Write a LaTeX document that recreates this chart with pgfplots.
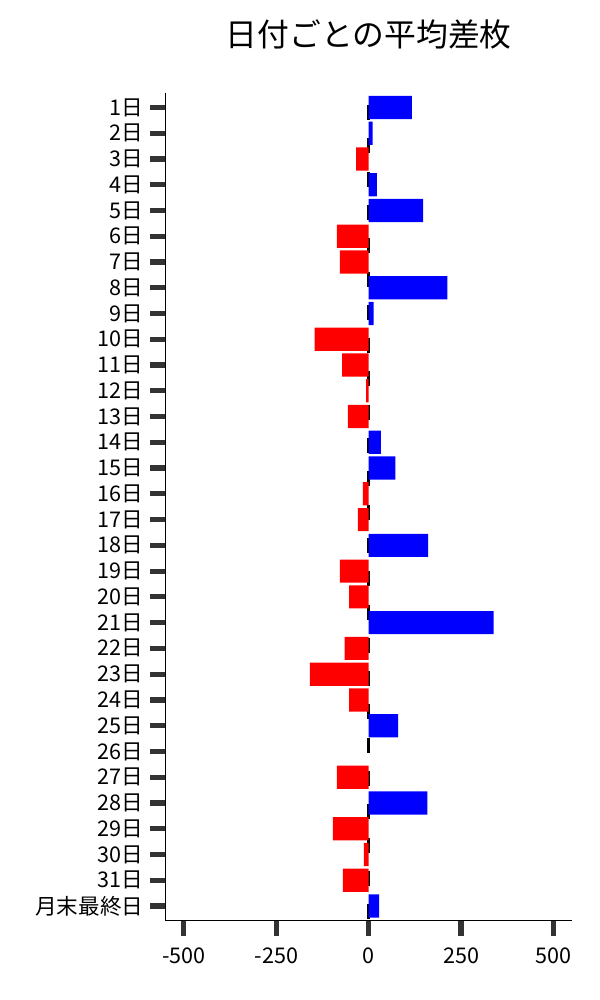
\documentclass[border=0pt]{standalone}
\usepackage{pgfplots}
\pgfplotsset{compat=1.18}
\usepackage{fontspec}
\setmainfont{Noto Sans CJK JP}
\definecolor{tickgray}{HTML}{333333}

\begin{document}
\begin{tikzpicture}
\begin{axis}[
    scale only axis,
    width=203.3pt, height=414pt,
    xmin=-550, xmax=550,
    ymin=-0.57, ymax=31.57,
    y dir=reverse,
    axis x line*=bottom, axis y line*=left,
    axis line style={line width=0.6pt, black},
    xtick={-500,-250,0,250,500},
    ytick={0,...,31},
    yticklabels={1日,2日,3日,4日,5日,6日,7日,8日,9日,10日,11日,12日,13日,14日,15日,16日,17日,18日,19日,20日,21日,22日,23日,24日,25日,26日,27日,28日,29日,30日,31日,月末最終日},
    tick align=outside,
    major tick length=7.5pt,
    every tick/.style={tickgray, line width=2.6pt},
    /pgf/number format/assume math mode=true,
    ticklabel style={font=\fontsize{10.8}{12}\selectfont},
    xticklabel style={yshift=-2.5pt},
    title={日付ごとの平均差枚},
    title style={at={(0.5,1)}, anchor=center, yshift=23pt, font=\fontsize{15.9}{18}\selectfont},
]
% reference line at zero, behind the bars
\addplot[forget plot, black, line width=1.2pt, dash pattern=on 7.5pt off 9.15pt, dash phase=10.5pt]
    coordinates {(0,-0.57) (0,31.57)};

% positive days
\addplot[xbar, bar width=0.9, bar shift=0pt, draw=none, fill=blue] coordinates {
    (117,0) (11,1) (22,3) (147,4) (213,7) (13.5,8) (33,13) (72,14)
    (161,17) (338,20) (80,24) (159,27) (28,31)
};
% negative days
\addplot[xbar, bar width=0.9, bar shift=0pt, draw=none, fill=red] coordinates {
    (-34,2) (-86,5) (-78,6) (-146,9) (-72,10) (-7,11) (-56,12) (-16,15)
    (-29,16) (-78,18) (-53,19) (-65,21) (-159,22) (-53,23) (-86,26)
    (-97,28) (-13,29) (-70,30)
};

\path (rel axis cs:-0.4068,-0.0958) coordinate (bl)
      (rel axis cs:1.0689,1.112) coordinate (tr);
\end{axis}
\pgfresetboundingbox
\path[use as bounding box] (bl) rectangle (tr);
\end{tikzpicture}
\end{document}
